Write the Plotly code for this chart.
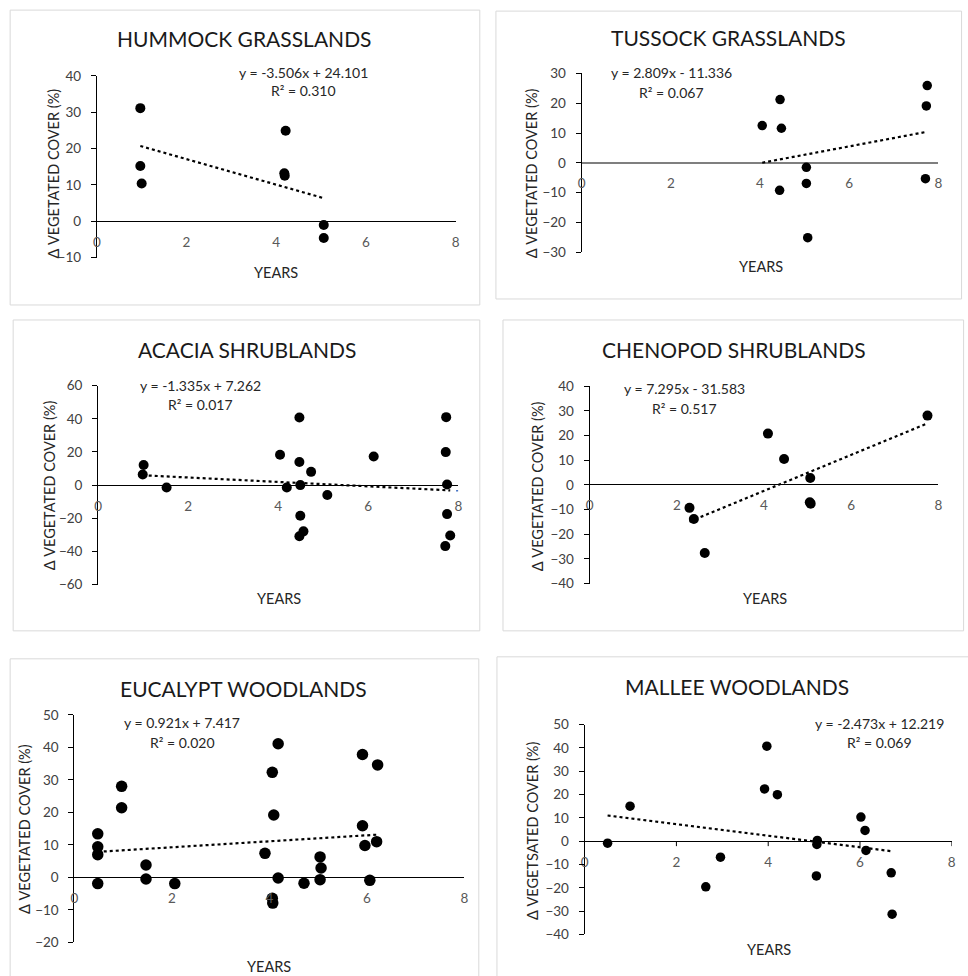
import plotly.graph_objects as go

W, H = 968, 976
FONT = "Lato"

# ---------------- data ----------------
titles = ["HUMMOCK GRASSLANDS", "TUSSOCK GRASSLANDS", "ACACIA SHRUBLANDS",
          "CHENOPOD SHRUBLANDS", "EUCALYPT WOODLANDS", "MALLEE WOODLANDS"]
y_titles = ["Δ VEGETATED COVER (%)"] * 5 + ["Δ VEGETSATED COVER (%)"]
x_title = "YEARS"

hum_x = [0.97, 0.97, 1.0, 4.21, 4.18, 4.19, 5.06, 5.06]
hum_y = [31.1, 15.2, 10.4, 24.9, 13.2, 12.5, -1.0, -4.6]

tus_x = [4.05, 4.45, 4.48, 4.44, 5.04, 5.04, 5.07, 7.75, 7.73, 7.71]
tus_y = [12.5, 21.2, 11.6, -9.2, -1.5, -6.9, -25.1, 25.9, 19.1, -5.3]

aca_x = [1.01, 0.99, 1.52, 4.04, 4.19, 4.47, 4.47, 4.73, 4.49, 4.49, 4.56, 4.47,
         5.09, 6.12, 7.73, 7.72, 7.75, 7.75, 7.82, 7.71]
aca_y = [12.1, 6.4, -1.4, 18.3, -1.4, 40.8, 13.9, 8.0, 0.0, -18.5, -27.9, -30.9,
         -6.0, 17.3, 41.0, 19.9, 0.4, -17.5, -30.4, -36.8]

che_x = [2.29, 2.39, 2.64, 4.09, 4.46, 5.06, 5.05, 5.07, 7.75]
che_y = [-9.3, -13.8, -27.6, 20.8, 10.5, 2.8, -7.0, -7.6, 28.1]

euc_x = [0.48, 0.48, 0.48, 0.48, 0.97, 0.97, 1.47, 1.47, 2.06, 3.91, 4.06, 4.09,
         4.18, 4.18, 4.06, 4.07, 4.71, 5.04, 5.06, 5.04, 5.91, 5.91, 5.96, 6.06,
         6.22, 6.20]
euc_y = [13.4, 9.4, 7.0, -1.9, 28.0, 21.4, 3.8, -0.5, -1.9, 7.4, 32.3, 19.2,
         41.1, -0.2, -6.4, -7.9, -1.8, 6.3, 2.9, -0.7, 37.8, 15.9, 9.8, -0.9,
         34.6, 11.0]

mal_x = [0.50, 0.99, 2.64, 2.96, 3.92, 3.97, 4.20, 5.07, 5.06, 5.05, 6.02, 6.11,
         6.13, 6.68, 6.70]
mal_y = [-0.9, 15.0, -19.6, -6.9, 22.4, 40.7, 19.9, 0.3, -1.4, -14.9, 10.3, 4.6,
         -4.0, -13.6, -31.3]

slopes = [-3.506, 2.809, -1.335, 7.295, 0.921, -2.473]
intercepts = [24.101, -11.336, 7.262, -31.583, 7.417, 12.219]
eq_texts = ["y = -3.506x + 24.101", "y = 2.809x - 11.336", "y = -1.335x + 7.262",
            "y = 7.295x - 31.583", "y = 0.921x + 7.417", "y = -2.473x + 12.219"]
r2_texts = ["R² = 0.310", "R² = 0.067", "R² = 0.017",
            "R² = 0.517", "R² = 0.020", "R² = 0.069"]

x_ticks = [0, 2, 4, 6, 8]
y_ranges = [(-10, 40), (-30, 30), (-60, 60), (-40, 40), (-20, 50), (-40, 50)]
y_dticks = [10, 10, 20, 10, 10, 10]

xs = [hum_x, tus_x, aca_x, che_x, euc_x, mal_x]
ys = [hum_y, tus_y, aca_y, che_y, euc_y, mal_y]

# ---------------- layout geometry (target pixels) ----------------
geo = [
    dict(x0=100, x8=456, ytop=75.7, ybot=257.7, border=(14, 10, 480, 305),
         title=(247, 38), eq=(305, 72), r2=(305, 90), yt=(57, 173), xt=(278, 273), ms=10,
         zc="black", zw=1, xticks=False),
    dict(x0=581, x8=935, ytop=73.3, ybot=252.3, border=(496, 11, 958, 299),
         title=(727, 37), eq=(670, 72), r2=(670, 92), yt=(531, 173), xt=(759, 267), ms=9.5,
         zc="#7f7f7f", zw=2, xticks=False),
    dict(x0=101.3, x8=458.7, ytop=385.7, ybot=584.7, border=(17, 320, 480, 631),
         title=(249, 350), eq=(203, 386), r2=(203, 405), yt=(53, 485), xt=(281, 599), ms=10,
         zc="black", zw=1, xticks=False),
    dict(x0=589, x8=935, ytop=386.3, ybot=583.7, border=(503, 320, 960, 631),
         title=(732, 350), eq=(683, 389), r2=(683, 409), yt=(538, 486), xt=(763, 599), ms=10,
         zc="black", zw=1, xticks=False),
    dict(x0=77.7, x8=464.7, ytop=715, ybot=942.7, border=(14, 659, 479, 1000),
         title=(246, 689), eq=(185, 723), r2=(185, 743), yt=(29, 829), xt=(271, 967), ms=11.5,
         zc="black", zw=1, xticks=False),
    dict(x0=584, x8=948.3, ytop=724.7, ybot=934.7, border=(497, 657, 1000, 1000),
         title=(735, 687), eq=(877, 724), r2=(877, 743), yt=(533, 831), xt=(767, 950), ms=9.5,
         zc="black", zw=1, xticks=True),
]

# compensation for the observed rendering offset/scale
S, OFF = 0.984, 7.9

def px(x):
    return ((x - OFF) / S) / W

def py(y):
    return 1 - ((y - OFF) / S) / H

fig = go.Figure()
layout = dict(width=W, height=H, margin=dict(l=0, r=0, t=0, b=0),
              paper_bgcolor="white", plot_bgcolor="rgba(0,0,0,0)",
              showlegend=False, font=dict(family=FONT, color="#404040"))
annotations = []
shapes = []

for i in range(6):
    g = geo[i]
    n = "" if i == 0 else str(i + 1)
    xa, ya = "x" + n, "y" + n
    ymin, ymax = y_ranges[i]
    zero_px = g["ytop"] + (g["ybot"] - g["ytop"]) * (ymax - 0) / (ymax - ymin)

    layout["xaxis" + n] = dict(
        domain=[px(g["x0"]), px(g["x8"])], range=[0, 8], anchor="free",
        position=py(zero_px + 11), tickvals=x_ticks, ticks="", showline=False,
        showgrid=False, zeroline=False, tickfont=dict(size=13.5, color="#595959"),
        fixedrange=True)
    layout["yaxis" + n] = dict(
        domain=[py(g["ybot"]), py(g["ytop"])], range=[ymin, ymax], anchor=xa,
        dtick=y_dticks[i], tick0=0, ticks="outside", ticklen=5, tickcolor="black",
        ticklabelstandoff=7,
        showline=True, linecolor="black", linewidth=1, showgrid=False,
        zeroline=True, zerolinecolor=g["zc"], zerolinewidth=g["zw"],
        tickfont=dict(size=13.5, color="#404040"), fixedrange=True)

    if g["xticks"]:
        for t in x_ticks[1:]:
            shapes.append(dict(type="line", xref=xa, yref="paper", x0=t, x1=t,
                               y0=py(zero_px), y1=py(zero_px + 5),
                               line=dict(color="black", width=1)))

    x_data, y_data = xs[i], ys[i]
    fig.add_trace(go.Scatter(x=x_data, y=y_data, mode="markers", xaxis=xa, yaxis=ya,
                             marker=dict(color="black", size=g["ms"])))
    lo, hi = min(x_data), max(x_data)
    fig.add_trace(go.Scatter(x=[lo, hi],
                             y=[slopes[i] * lo + intercepts[i], slopes[i] * hi + intercepts[i]],
                             mode="lines", xaxis=xa, yaxis=ya,
                             line=dict(color="black", width=2.2, dash="dot")))
    if i == 2:
        # tiny blue continuation of the Acacia trendline up to the axis end
        fig.add_trace(go.Scatter(x=[7.95, 8.0],
                                 y=[slopes[i] * 7.95 + intercepts[i], slopes[i] * 8.0 + intercepts[i]],
                                 mode="lines", xaxis=xa, yaxis=ya,
                                 line=dict(color="#4472c4", width=1.5, dash="dot")))

    bx0, by0, bx1, by1 = g["border"]
    shapes.append(dict(type="rect", xref="paper", yref="paper",
                       x0=px(bx0), x1=px(bx1), y0=py(by1), y1=py(by0),
                       line=dict(color="#d9d9d9", width=1), layer="below"))

    annotations.append(dict(text=titles[i], x=px(g["title"][0]), y=py(g["title"][1]),
                            xref="paper", yref="paper", showarrow=False,
                            xanchor="center", yanchor="middle",
                            font=dict(size=21, color="#1a1a1a", family=FONT)))
    annotations.append(dict(text=eq_texts[i], x=px(g["eq"][0]), y=py(g["eq"][1]),
                            xref="paper", yref="paper", showarrow=False,
                            xanchor="center", yanchor="middle",
                            font=dict(size=14, color="#262626", family=FONT)))
    annotations.append(dict(text=r2_texts[i], x=px(g["r2"][0]), y=py(g["r2"][1]),
                            xref="paper", yref="paper", showarrow=False,
                            xanchor="center", yanchor="middle",
                            font=dict(size=14, color="#262626", family=FONT)))
    annotations.append(dict(text=y_titles[i], x=px(g["yt"][0]), y=py(g["yt"][1]),
                            xref="paper", yref="paper", showarrow=False, textangle=-90,
                            xanchor="center", yanchor="middle",
                            font=dict(size=14.5, color="#262626", family=FONT)))
    annotations.append(dict(text=x_title, x=px(g["xt"][0]), y=py(g["xt"][1]),
                            xref="paper", yref="paper", showarrow=False,
                            xanchor="center", yanchor="middle",
                            font=dict(size=14.5, color="#262626", family=FONT)))

layout["annotations"] = annotations
layout["shapes"] = shapes
fig.update_layout(**layout)
fig.write_html("out.html", config={"displayModeBar": False},
               post_script="document.body.style.margin='0';"
                           "document.body.style.overflow='hidden';")
